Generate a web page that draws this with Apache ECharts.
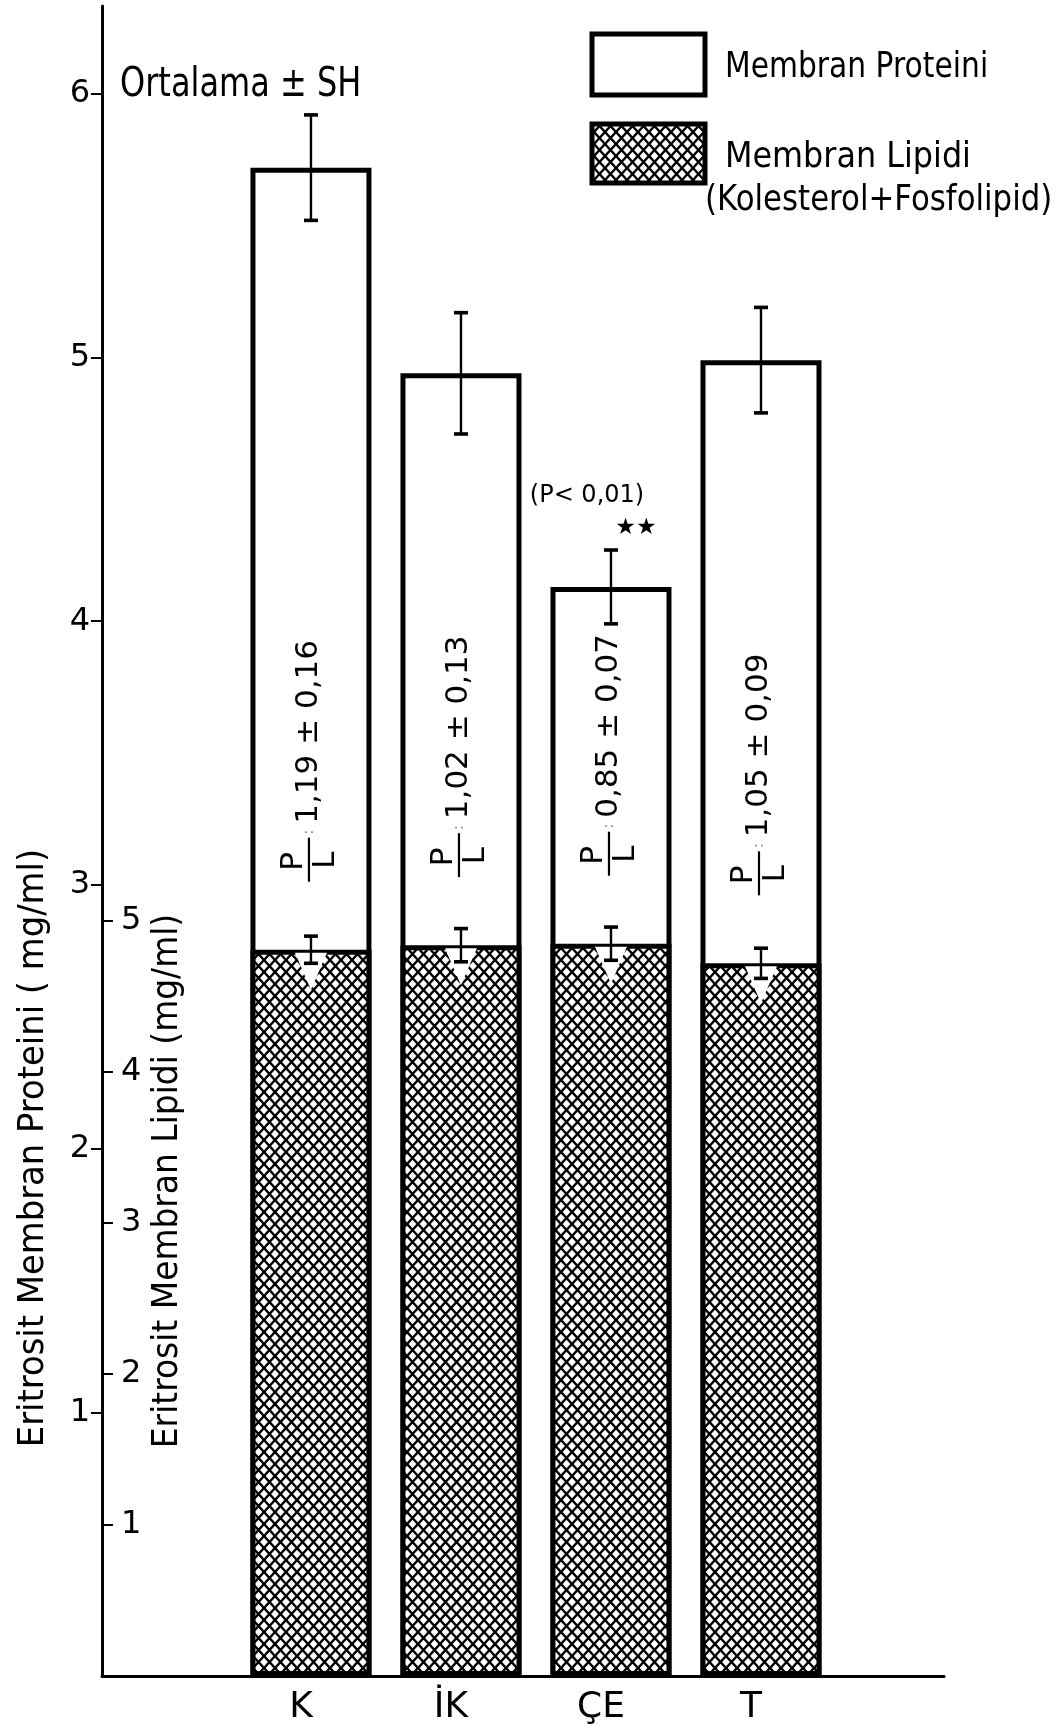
<!DOCTYPE html>
<html>
<head>
<meta charset="utf-8">
<script src="https://cdn.jsdelivr.net/npm/echarts/dist/echarts.min.js"></script>
<style>
  html, body { margin: 0; padding: 0; background: #fff; }
  #chart { width: 1063px; height: 1726px; }
</style>
</head>
<body>
<div id="chart"></div>
<script>
// Erythrocyte membrane protein and lipid content per group (mean ± SE)
const categories = ['K', 'İK', 'ÇE', 'T'];
const proteinMean = [5.72, 4.94, 4.13, 4.99];
const proteinSE = [0.20, 0.23, 0.14, 0.20];
const lipidMean = [4.81, 4.84, 4.85, 4.72];
const lipidSE = [0.09, 0.11, 0.11, 0.10];
const ratioMean = [1.19, 1.02, 0.85, 1.05];
const ratioSE = [0.16, 0.13, 0.07, 0.09];
const pNote = ['', '', '(P< 0,01)', ''];
const pStars = ['', '', '★★', ''];
const proteinTicks = [1, 2, 3, 4, 5, 6];
const lipidTicks = [1, 2, 3, 4, 5];

const FONT = 'DejaVu Sans';
const INK = '#000';

// Cross-hatch tile used for the lipid bars and its legend key
function crossHatch() {
  const w = 11, h = 12;
  const c = document.createElement('canvas');
  c.width = w; c.height = h;
  const g = c.getContext('2d');
  g.fillStyle = '#fff';
  g.fillRect(0, 0, w, h);
  g.strokeStyle = '#000';
  g.lineWidth = 2.4;
  for (const k of [-w, 0, w]) {
    g.beginPath(); g.moveTo(k, 0); g.lineTo(k + w, h); g.stroke();
    g.beginPath(); g.moveTo(k + w, 0); g.lineTo(k, h); g.stroke();
  }
  return c;
}
const hatchFill = { image: crossHatch(), repeat: 'repeat' };

const fmt = v => v.toFixed(2).replace('.', ',');

// Mean ± SE whiskers; optional white notch cut into the hatch below the bar top
function errorBars(withNotch, notes, stars) {
  return function (params, api) {
    const i = api.value(0);
    const m = api.value(1);
    const s = api.value(2);
    const top = api.coord([i, m + s]);
    const mid = api.coord([i, m]);
    const bot = api.coord([i, m - s]);
    const x = mid[0];
    const cap = 7;
    const children = [];
    if (withNotch) {
      children.push({
        type: 'polygon',
        shape: { points: [[x - 16, mid[1] + 3], [x + 16, mid[1] + 3], [x, mid[1] + 40]] },
        style: { fill: '#fff' }
      });
    }
    children.push(
      { type: 'line', shape: { x1: x, y1: top[1], x2: x, y2: bot[1] }, style: { stroke: INK, lineWidth: 2.4 } },
      { type: 'line', shape: { x1: x - cap, y1: top[1], x2: x + cap, y2: top[1] }, style: { stroke: INK, lineWidth: 3.6 } },
      { type: 'line', shape: { x1: x - cap, y1: bot[1], x2: x + cap, y2: bot[1] }, style: { stroke: INK, lineWidth: 3.6 } }
    );
    if (notes && notes[i]) {
      children.push({
        type: 'text',
        style: { text: notes[i], x: x - 24, y: top[1] - 54, align: 'center', verticalAlign: 'middle',
                 fontSize: 24, fontFamily: FONT, fill: INK }
      });
    }
    if (stars && stars[i]) {
      children.push({
        type: 'text',
        style: { text: stars[i], x: x + 25, y: top[1] - 22, align: 'center', verticalAlign: 'middle',
                 fontSize: 23, fontFamily: FONT, fill: INK }
      });
    }
    return { type: 'group', children };
  };
}

// Vertical "P/L : mean ± SE" note written inside each protein bar
function ratioLabel(params, api) {
  const i = api.value(0);
  const p = api.coord([i, api.value(1)]);
  const txt = fmt(api.value(2)) + ' ± ' + fmt(api.value(3));
  return {
    type: 'group',
    x: p[0] - 2,
    y: p[1] - 68,
    rotation: Math.PI / 2,
    children: [
      { type: 'text', style: { text: 'P', x: 11, y: -15, align: 'left', verticalAlign: 'middle', fontSize: 31, fontFamily: FONT, fill: INK } },
      { type: 'line', shape: { x1: 0, y1: 0, x2: 44, y2: 0 }, style: { stroke: INK, lineWidth: 2.2 } },
      { type: 'text', style: { text: 'L', x: 13, y: 17, align: 'left', verticalAlign: 'middle', fontSize: 31, fontFamily: FONT, fill: INK } },
      { type: 'text', style: { text: ':', x: 47, y: 0, align: 'left', verticalAlign: 'middle', fontSize: 16, fontFamily: FONT, fill: '#999' } },
      { type: 'text', style: { text: txt, x: 58, y: 0, align: 'left', verticalAlign: 'middle', fontSize: 31, fontFamily: FONT, fill: INK } }
    ]
  };
}

const chart = echarts.init(document.getElementById('chart'), null, { renderer: 'canvas' });

const option = {
  animation: false,
  backgroundColor: '#fff',
  grid: { left: 102, right: 119, top: 6, bottom: 48 },
  xAxis: {
    type: 'value',
    min: -1.393,
    max: 4.22,
    axisLine: { onZero: false, lineStyle: { color: INK, width: 3 } },
    axisTick: { show: false },
    splitLine: { show: false },
    axisLabel: {
      customValues: categories.map((c, i) => i),
      formatter: v => categories[Math.round(v)] || '',
      margin: 14,
      padding: [0, 20, 0, 0],
      fontSize: 36,
      fontFamily: FONT,
      color: INK
    }
  },
  yAxis: [
    {
      type: 'value',
      min: 0,
      max: 6.333,
      position: 'left',
      axisLine: { show: true, onZero: false, lineStyle: { color: INK, width: 3 } },
      axisTick: { show: true, inside: false, length: 11, customValues: proteinTicks, lineStyle: { color: INK, width: 2 } },
      axisLabel: { customValues: proteinTicks, margin: 12, fontSize: 32, fontFamily: FONT, color: INK },
      splitLine: { show: false }
    },
    {
      type: 'value',
      min: 0,
      max: 11.06,
      position: 'left',
      offset: 0,
      axisLine: { show: false, onZero: false },
      axisTick: { show: true, inside: true, length: 11, customValues: lipidTicks, lineStyle: { color: INK, width: 2 } },
      axisLabel: { inside: true, customValues: lipidTicks, margin: 19, fontSize: 32, fontFamily: FONT, color: INK },
      splitLine: { show: false }
    }
  ],
  series: [
    {
      name: 'Membran Proteini',
      type: 'bar',
      xAxisIndex: 0,
      yAxisIndex: 0,
      barWidth: 121,
      barGap: '-100%',
      z: 2,
      itemStyle: { color: '#fff', borderColor: INK, borderWidth: 5 },
      data: categories.map((c, i) => [i, proteinMean[i]])
    },
    {
      name: 'Membran Lipidi',
      type: 'bar',
      xAxisIndex: 0,
      yAxisIndex: 1,
      barWidth: 121,
      barGap: '-100%',
      z: 3,
      itemStyle: { color: hatchFill, borderColor: INK, borderWidth: 5 },
      data: categories.map((c, i) => [i, lipidMean[i]])
    },
    {
      type: 'custom',
      xAxisIndex: 0,
      yAxisIndex: 0,
      z: 5,
      renderItem: errorBars(false, pNote, pStars),
      data: categories.map((c, i) => [i, proteinMean[i], proteinSE[i]])
    },
    {
      type: 'custom',
      xAxisIndex: 0,
      yAxisIndex: 1,
      z: 5,
      renderItem: errorBars(true),
      data: categories.map((c, i) => [i, lipidMean[i], lipidSE[i]])
    },
    {
      type: 'custom',
      xAxisIndex: 0,
      yAxisIndex: 1,
      z: 6,
      renderItem: ratioLabel,
      data: categories.map((c, i) => [i, lipidMean[i], ratioMean[i], ratioSE[i]])
    }
  ],
  graphic: [
    { type: 'text', x: 120, y: 86, scaleX: 0.8,
      style: { text: 'Ortalama ± SH', fontSize: 40, fontFamily: FONT, fill: INK, align: 'left', verticalAlign: 'middle' } },
    { type: 'text', x: 34, y: 1148, rotation: Math.PI / 2, scaleX: 0.94,
      style: { text: 'Eritrosit Membran Proteini ( mg/ml)', fontSize: 36, fontFamily: FONT, fill: INK, align: 'center', verticalAlign: 'middle' } },
    { type: 'text', x: 168, y: 1181, rotation: Math.PI / 2, scaleX: 0.94,
      style: { text: 'Eritrosit Membran Lipidi (mg/ml)', fontSize: 35, fontFamily: FONT, fill: INK, align: 'center', verticalAlign: 'middle' } },
    { type: 'rect', shape: { x: 592, y: 34, width: 113, height: 61 },
      style: { fill: '#fff', stroke: INK, lineWidth: 5 } },
    { type: 'rect', shape: { x: 592, y: 124, width: 113, height: 59 },
      style: { fill: hatchFill, stroke: INK, lineWidth: 5 } },
    { type: 'text', x: 725, y: 68, scaleX: 0.85,
      style: { text: 'Membran Proteini', fontSize: 35, fontFamily: FONT, fill: INK, align: 'left', verticalAlign: 'middle' } },
    { type: 'text', x: 725, y: 158, scaleX: 0.91,
      style: { text: 'Membran Lipidi', fontSize: 35, fontFamily: FONT, fill: INK, align: 'left', verticalAlign: 'middle' } },
    { type: 'text', x: 705, y: 201, scaleX: 0.88,
      style: { text: '(Kolesterol+Fosfolipid)', fontSize: 35, fontFamily: FONT, fill: INK, align: 'left', verticalAlign: 'middle' } }
  ]
};

chart.setOption(option);
</script>
</body>
</html>
